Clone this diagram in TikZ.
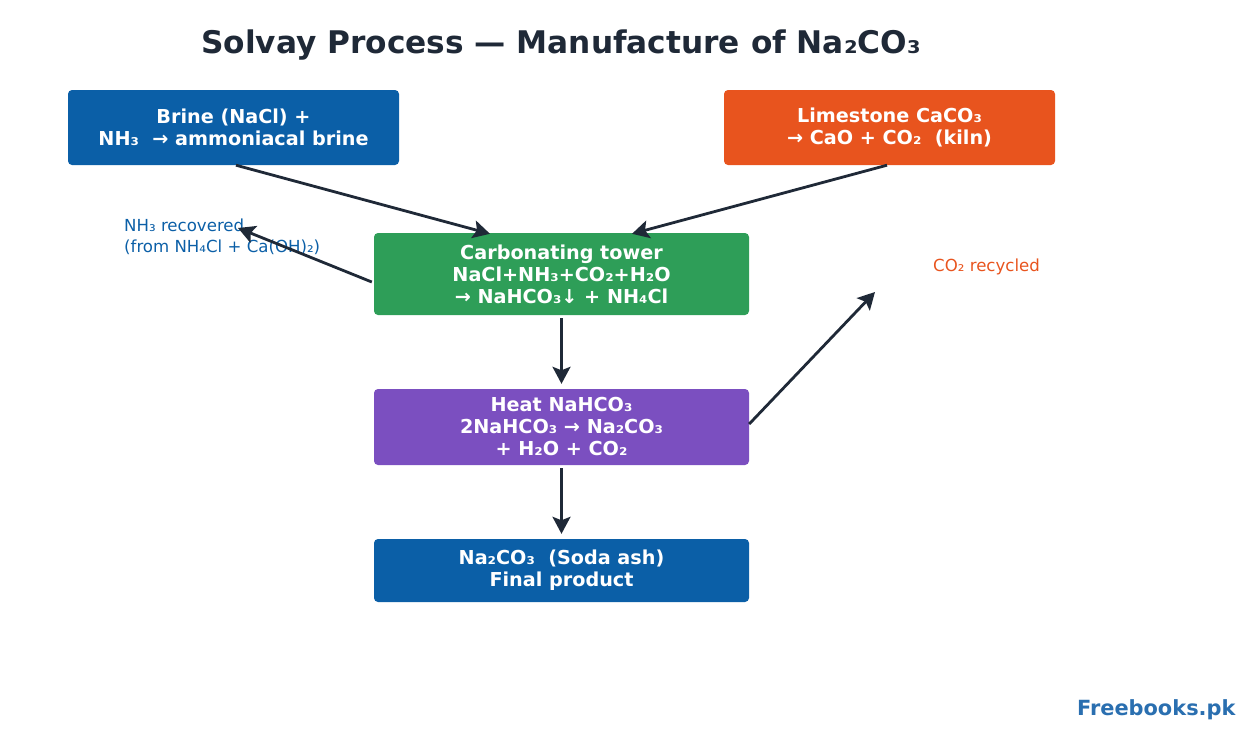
\documentclass[tikz,border=0pt]{standalone}
\usepackage{fontspec}
\setmainfont{DejaVu Sans}
\usetikzlibrary{arrows.meta,calc}
\definecolor{cblue}{HTML}{0B5FA7}
\definecolor{corange}{HTML}{E8541E}
\definecolor{cgreen}{HTML}{2E9E58}
\definecolor{cpurple}{HTML}{7B4FC0}
\definecolor{cdark}{HTML}{1F2937}
\definecolor{cwm}{HTML}{2A6FB0}
\tikzset{
  box/.style={rounded corners=4pt, inner sep=0pt, text=white, align=center,
    font=\fontsize{19.2}{22}\selectfont\bfseries},
  flow/.style={draw=cdark, line width=2.8pt, -{Stealth[length=17pt,width=18pt,inset=3.5pt]}},
  note/.style={font=\fontsize{16.6}{20.5}\selectfont, align=left, inner sep=0pt}
}
\begin{document}
\begin{tikzpicture}[x=1pt,y=-1pt]
\useasboundingbox (0,0) rectangle (1249,734);
\node[font=\fontsize{31.2}{36}\selectfont\bfseries, text=cdark] (title) at (561,45) {Solvay Process — Manufacture of Na₂CO₃};
\node[box, fill=cblue, minimum width=331pt, minimum height=75pt] (brine) at (233.5,127.5) {Brine (NaCl) +\\NH₃ \ → ammoniacal brine};
\node[box, fill=corange, minimum width=331pt, minimum height=75pt] (lime) at (889.5,127.5) {Limestone CaCO₃\\→ CaO + CO₂ \ (kiln)};
\node[box, fill=cgreen, minimum width=375pt, minimum height=82pt] (carb) at (561.5,274) {Carbonating tower\\NaCl+NH₃+CO₂+H₂O\\→ NaHCO₃↓ + NH₄Cl};
\node[box, fill=cpurple, minimum width=375pt, minimum height=76pt] (heat) at (561.5,427) {Heat NaHCO₃\\2NaHCO₃ → Na₂CO₃\\+ H₂O + CO₂};
\node[box, fill=cblue, minimum width=375pt, minimum height=63pt] (prod) at (561.5,570.5) {Na₂CO₃ \ (Soda ash)\\Final product};
\node[note, text=cblue, anchor=north west] (nh3) at (124,219) {NH₃ recovered\\(from NH₄Cl + Ca(OH)₂)};
\node[note, text=corange, anchor=west] (co2) at (933,267) {CO₂ recycled};
\node[font=\fontsize{20.9}{24}\selectfont\bfseries, text=cwm, anchor=east] (wm) at (1239,710) {Freebooks.pk};
\coordinate (nh3end) at (238,228);
\coordinate (co2end) at (875,292);
\draw[flow] ([xshift=2.5pt]brine.south) -- ([xshift=-71.5pt,yshift=-1pt]carb.north);
\draw[flow] ([xshift=-2.5pt]lime.south) -- ([xshift=70.5pt,yshift=-1pt]carb.north);
\draw[flow] ([xshift=-2pt,yshift=-8pt]carb.west) -- (nh3end);
\draw[flow, shorten <=3pt, shorten >=5pt] (carb.south) -- (heat.north);
\draw[flow] ([yshift=3pt]heat.east) -- (co2end);
\draw[flow, shorten <=3pt, shorten >=5pt] (heat.south) -- (prod.north);
\end{tikzpicture}
\end{document}
